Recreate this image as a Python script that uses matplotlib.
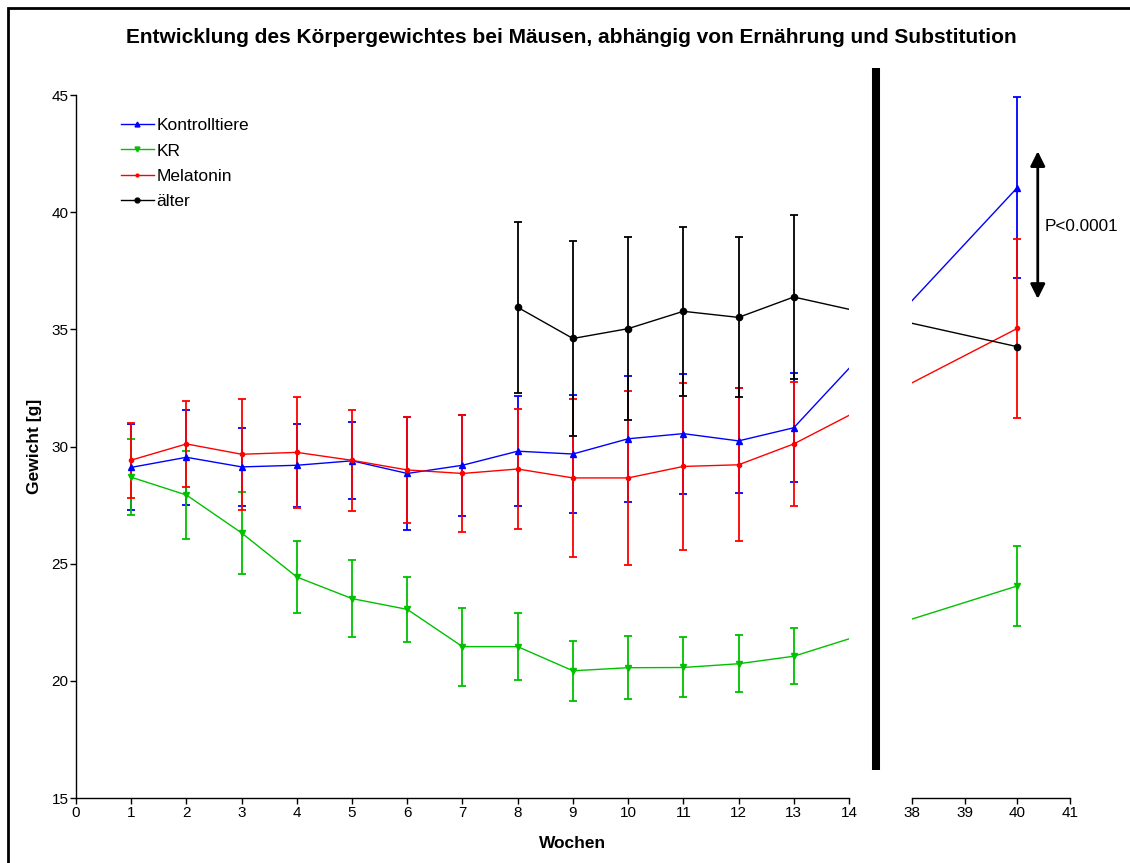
import numpy as np
import matplotlib
matplotlib.use('Agg')
import matplotlib.pyplot as plt
from matplotlib.lines import Line2D
from matplotlib.patches import Rectangle

plt.rcParams['font.family'] = ['Liberation Sans', 'DejaVu Sans']

# --- data ---
weeks = [1, 2, 3, 4, 5, 6, 7, 8, 9, 10, 11, 12, 13, 40]
weeks_old = [8, 9, 10, 11, 12, 13, 40]

kontroll = [29.11, 29.54, 29.13, 29.20, 29.39, 28.85, 29.20, 29.80, 29.68, 30.33, 30.55, 30.24, 30.80, 41.05]
kontroll_sd = [1.83, 2.03, 1.66, 1.76, 1.64, 2.40, 2.15, 2.34, 2.50, 2.70, 2.56, 2.24, 2.32, 3.85]

kr = [28.69, 27.93, 26.31, 24.43, 23.51, 23.05, 21.46, 21.46, 20.43, 20.56, 20.57, 20.73, 21.05, 24.05]
kr_sd = [1.62, 1.86, 1.74, 1.55, 1.63, 1.39, 1.66, 1.42, 1.27, 1.35, 1.28, 1.22, 1.20, 1.72]

melatonin = [29.42, 30.11, 29.67, 29.75, 29.41, 29.00, 28.85, 29.04, 28.66, 28.66, 29.15, 29.22, 30.11, 35.04]
melatonin_sd = [1.60, 1.85, 2.36, 2.38, 2.15, 2.28, 2.50, 2.56, 3.37, 3.71, 3.58, 3.27, 2.66, 3.83]

aelter = [35.94, 34.61, 35.03, 35.77, 35.51, 36.38, 34.26]
aelter_sd = [3.64, 4.18, 3.91, 3.61, 3.41, 3.49, np.nan]

xticks_left = list(range(0, 15))
xticks_right = [38, 39, 40, 41]

# broken x axis: 0..14 and 38..41 mapped onto one axis
GAP = 1.142
R_SCALE = 0.954


def xpos(w):
    w = np.asarray(w, dtype=float)
    return np.where(w <= 14, w, 14 + GAP + (w - 38) * R_SCALE)


fig = plt.figure(figsize=(11.3, 8.63), dpi=100)
ax = fig.add_axes([0.0673, 0.0753, 0.8796, 0.8146])

series = [
    ('Kontrolltiere', weeks, kontroll, kontroll_sd, '#0000ff', '^', 4.5),
    ('KR', weeks, kr, kr_sd, '#00c000', 'v', 4.5),
    ('Melatonin', weeks, melatonin, melatonin_sd, '#ff0000', 'o', 3),
    ('älter', weeks_old, aelter, aelter_sd, '#000000', 'o', 4.5),
]

handles = []
for name, x, y, sd, col, mk, ms in series:
    ax.errorbar(xpos(x), y, yerr=sd, fmt='none', ecolor=col, elinewidth=1.3,
                capsize=3, capthick=1.3, zorder=3)
    ax.plot(xpos(x), y, color=col, lw=1.0, marker=mk, ms=ms, zorder=4)
    handles.append(Line2D([], [], color=col, lw=1.0, marker=mk, ms=ms - 1))

# hide the lines in the axis gap
ax.axvspan(14, float(xpos(38)), color='white', zorder=5, lw=0)
# thick break bar
ax.plot([14.49, 14.49], [16.19, 46.15], color='black', lw=5.8,
        solid_capstyle='butt', clip_on=False, zorder=6)

ax.set_xlim(0, float(xpos(41)))
ax.set_ylim(15, 45)
ax.set_yticks([15, 20, 25, 30, 35, 40, 45])
xt = xticks_left + xticks_right
ax.set_xticks(xpos(xt))
ax.set_xticklabels([str(t) for t in xt])
ax.set_xticks(xpos([14, 38, 41]), minor=True)
ax.tick_params(axis='both', which='major', direction='out', length=4,
               width=1, labelsize=11, pad=1.5)
ax.tick_params(axis='x', which='minor', direction='in', length=5, width=1)

for s in ['top', 'right', 'bottom']:
    ax.spines[s].set_visible(False)
ax.spines['left'].set_linewidth(1)
ax.plot([0, 14], [15, 15], color='black', lw=1, clip_on=False, zorder=7)
ax.plot(xpos([38, 41]), [15, 15], color='black', lw=1, clip_on=False, zorder=7)

ax.set_xlabel('Wochen', fontsize=12.5, fontweight='bold', labelpad=12)
ax.set_ylabel('Gewicht [g]', fontsize=12.5, fontweight='bold', labelpad=7)

ax.legend(handles, [s[0] for s in series], loc='upper left',
          bbox_to_anchor=(0.038, 0.977), frameon=False, fontsize=12.5,
          handlelength=1.9, handletextpad=0.15, labelspacing=0.58,
          borderaxespad=0)

# significance arrow
ax.annotate('', xy=(17.42, 42.6), xytext=(17.42, 36.3),
            arrowprops=dict(arrowstyle='<|-|>', lw=2, color='black',
                            mutation_scale=22, shrinkA=0, shrinkB=0),
            annotation_clip=False)
ax.text(17.55, 39.41, 'P<0.0001', fontsize=12.3, ha='left', va='center')

fig.text(0.506, 0.956, 'Entwicklung des Körpergewichtes bei Mäusen, abhängig von Ernährung und Substitution',
         ha='center', va='center', fontsize=15, fontweight='bold')

fig.patches.append(Rectangle((0.0071, -0.1), 1.2, 1.0907, fill=False, lw=2,
                             edgecolor='black', transform=fig.transFigure))

fig.savefig('out.png', dpi=100)
